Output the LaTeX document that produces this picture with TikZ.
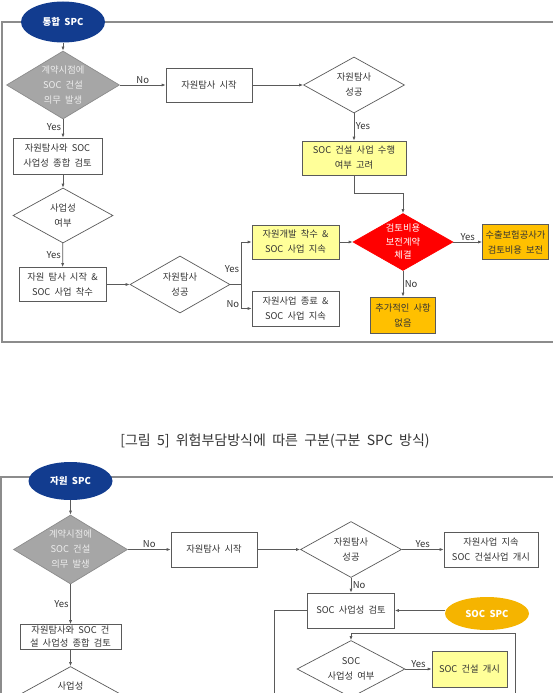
\documentclass[tikz,border=0pt]{standalone}
\usepackage{fontspec}
\setmainfont[WordSpace=2]{Noto Sans CJK KR}
\usetikzlibrary{arrows.meta,shapes.geometric}
\definecolor{ink}{HTML}{333333}
\definecolor{wire}{HTML}{5A5A5A}
\definecolor{rim}{HTML}{8C8C8C}
\definecolor{navy}{HTML}{123C8F}
\definecolor{slate}{HTML}{A6A6A6}
\definecolor{pale}{HTML}{EDEDED}
\definecolor{lemon}{HTML}{FFFF99}
\definecolor{gold}{HTML}{FFC000}
\definecolor{amber}{HTML}{F5B400}
\definecolor{alarm}{HTML}{FF0000}
\tikzset{
  every picture/.style={font=\fontsize{9.3}{15}\selectfont},
  frameline/.style={draw=rim,line width=1.4pt},
  flow/.style={-{Latex[length=4pt,width=3pt]},draw=wire,line width=.7pt},
  link/.style={draw=wire,line width=.7pt},
  tag/.style={font=\fontsize{9.5}{11}\selectfont,text=ink,inner sep=1.5pt},
  stepbox/.style={draw=wire,fill=white,align=center,inner sep=0pt,line width=.7pt,text=ink},
  decision/.style={diamond,draw=wire,fill=white,align=center,inner sep=0pt,shape aspect=1.7,line width=.7pt,text=ink},
  owner/.style={ellipse,fill=navy,text=white,inner sep=0pt,font=\fontsize{9.5}{11}\selectfont\bfseries},
}
\begin{document}
\begin{tikzpicture}[x=1pt,y=-1pt]
  \useasboundingbox (0,0) rectangle (553,693);
  \clip (0,0) rectangle (553,693);

  % Upper chart: one SPC carries the resource work and the SOC duty.
  \draw[frameline] (556,22) -| (2,342) -- (556,342);
  \node[owner,minimum width=84pt,minimum height=41pt] (top1) at (63,22) {통합 SPC};
  \node[decision,fill=slate,draw=rim,text=pale,minimum width=113pt,minimum height=68pt] (duty1) at (63,85) {계약시점에\\SOC 건설\\의무 발생};
  \node[stepbox,minimum width=86pt,minimum height=34pt] (start1) at (209,85) {자원탐사 시작};
  \node[decision,minimum width=101pt,minimum height=56pt] (found1) at (354,85) {자원탐사\\성공};
  \node[stepbox,fill=lemon,minimum width=104pt,minimum height=34pt] (weigh1) at (354,158) {SOC 건설 사업 수행\\여부 고려};
  \node[decision,fill=alarm,draw=alarm,text=white,minimum width=100pt,minimum height=57pt,font=\fontsize{9.3}{13.5}\selectfont] (fee1) at (403,242) {검토비용\\보전계약\\체결};
  \node[stepbox,fill=gold,minimum width=66pt,minimum height=35pt] (pay1) at (515.5,242) {수출보험공사가\\검토비용 보전};
  \node[stepbox,fill=gold,minimum width=65pt,minimum height=36pt] (none1) at (403,315) {추가적인 사항\\없음};
  \node[stepbox,minimum width=89pt,minimum height=36pt] (review1) at (57.5,156) {자원탐사와 SOC\\사업성 종합 검토};
  \node[decision,minimum width=100pt,minimum height=55pt] (viable1) at (63,215.5) {사업성\\여부};
  \node[stepbox,minimum width=87pt,minimum height=34pt] (launch1) at (62.5,284.5) {자원 탐사 시작 \&\\SOC 사업 착수};
  \node[decision,minimum width=100pt,minimum height=57pt] (probe1) at (180,284.5) {자원탐사\\성공};
  \node[stepbox,fill=lemon,minimum width=87pt,minimum height=34pt] (dev1) at (295.5,242) {자원개발 착수 \&\\SOC 사업 지속};
  \node[stepbox,minimum width=87pt,minimum height=35pt] (end1) at (295.5,308.5) {자원사업 종료 \&\\SOC 사업 지속};

  \draw[flow] (top1) -- (duty1);
  \draw[flow] (duty1) -- node[tag,above] {No} (start1);
  \draw[flow] (start1) -- (found1);
  \draw[flow] (found1) -- node[tag,right,pos=.45] {Yes} (weigh1);
  \draw[flow] (weigh1.south) -- ++(0,18) -| (fee1.north);
  \draw[flow] (fee1) -- node[tag,above] {Yes} (pay1);
  \draw[flow] (fee1) -- node[tag,right] {No} (none1);
  \draw[flow] (duty1.south) -- node[tag,left,pos=.4] {Yes} (duty1.south |- review1.north);
  \draw[flow] (review1.south -| viable1.north) -- (viable1.north);
  \draw[flow] (viable1) -- node[tag,left] {Yes} (launch1);
  \draw[flow] (launch1) -- (probe1);
  \coordinate (split1) at (241,284.5);
  \draw[link] (probe1) -- (split1);
  \draw[flow] (split1) |- node[tag,left,pos=.18] {Yes} (dev1);
  \draw[flow] (split1) |- node[tag,left,pos=.4] {No} (end1);
  \draw[flow] (dev1) -- (fee1);

  \node[font=\fontsize{14}{16}\selectfont,text=ink] (caption) at (275,441) {[그림 5] 위험부담방식에 따른 구분(구분 SPC 방식)};

  % Lower chart: the SOC SPC comes in after the resource review.
  \draw[frameline] (556,477) -| (1,700);
  \node[owner,minimum width=84pt,minimum height=38pt] (top2) at (70.5,481) {자원 SPC};
  \node[decision,fill=slate,draw=rim,text=pale,minimum width=114pt,minimum height=69pt] (duty2) at (70.5,549.5) {계약시점에\\SOC 건설\\의무 발생};
  \node[stepbox,minimum width=86pt,minimum height=35pt] (start2) at (214,549.5) {자원탐사 시작};
  \node[decision,minimum width=101pt,minimum height=56pt] (found2) at (351,549.5) {자원탐사\\성공};
  \node[stepbox,minimum width=94pt,minimum height=35pt] (go2) at (491,549.5) {자원사업 지속\\SOC 건설사업 개시};
  \node[stepbox,minimum width=87pt,minimum height=35pt] (check2) at (351,610.5) {SOC 사업성 검토};
  \node[owner,fill=amber,minimum width=84pt,minimum height=33pt] (soc2) at (487,613.5) {SOC SPC};
  \node[decision,minimum width=108pt,minimum height=57pt] (viable2b) at (351,669) {SOC\\사업성 여부};
  \node[stepbox,fill=lemon,minimum width=75pt,minimum height=36pt] (build2) at (469.5,669) {SOC 건설 개시};
  \node[stepbox,minimum width=101pt,minimum height=25pt,font=\fontsize{9.3}{13}\selectfont] (review2) at (70.5,637) {자원탐사와 SOC 건\\설 사업성 종합 검토};
  \node[decision,minimum width=100pt,minimum height=55pt] (viable2) at (70.5,694) {사업성\\\phantom{여부}};

  \draw[flow] (top2) -- (duty2);
  \draw[flow] (duty2) -- node[tag,above] {No} (start2);
  \draw[flow] (start2) -- (found2);
  \draw[flow] (found2) -- node[tag,above] {Yes} (go2);
  \draw[flow] (found2) -- node[tag,right] {No} (check2);
  \draw[flow] (soc2.west |- check2.east) -- (check2.east);
  \draw[link] (check2.west) -- ++(-33,0) -- ++(0,90);
  \coordinate (loop2) at (515,700);
  \draw[flow] (loop2) -- ++(0,-67) -| (viable2b.north);
  \draw[flow] (viable2b) -- node[tag,above] {Yes} (build2);
  \draw[flow] (duty2) -- node[tag,left] {Yes} (review2);
  \draw[flow] (review2) -- (viable2);
\end{tikzpicture}
\end{document}
